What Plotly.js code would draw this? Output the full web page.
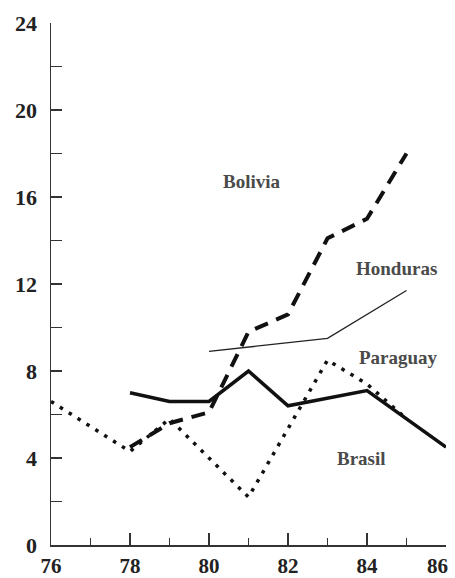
<!DOCTYPE html>
<html>
<head>
<meta charset="utf-8">
<script src="https://cdn.plot.ly/plotly-3.0.1.min.js"></script>
<style>html,body{margin:0;padding:0;background:#fff;}#chart{width:455px;height:578px;}</style>
</head>
<body>
<div id="chart"></div>
<script>
// Data
const boliviaYears = [78, 79, 80, 81, 82, 83, 84, 85];
const boliviaValues = [4.5, 5.6, 6.1, 9.8, 10.6, 14.1, 15.0, 18.0];

const hondurasYears = [80, 83, 85];
const hondurasValues = [8.9, 9.5, 11.7];

const paraguayYears = [76, 78, 79, 81, 83, 84, 85];
const paraguayValues = [6.6, 4.3, 5.8, 2.2, 8.5, 7.4, 5.8];

const brasilYears = [78, 79, 80, 81, 82, 84, 86];
const brasilValues = [7.0, 6.6, 6.6, 8.0, 6.4, 7.1, 4.5];

const labelNames = ["Bolivia", "Honduras", "Paraguay", "Brasil"];
const labelYears = [81.1, 84.75, 84.8, 83.85];
const labelValues = [16.7, 12.7, 8.6, 4.0];

const xTickVals = [76, 78, 80, 82, 84, 86];
const xTickText = ["76", "78", "80", "82", "84", ""];
const lastXTick = "86";
const yTickVals = [0, 4, 8, 12, 16, 20, 24];

const serif = "Liberation Serif, Times New Roman, serif";

const traces = [
  {x: paraguayYears, y: paraguayValues, mode: "lines", line: {color: "#111", width: 3.5, dash: "3.5px,7px"}},
  {x: hondurasYears, y: hondurasValues, mode: "lines", line: {color: "#222", width: 1.3}},
  {x: boliviaYears, y: boliviaValues, mode: "lines", line: {color: "#111", width: 4, dash: "14px,9px"}},
  {x: brasilYears, y: brasilValues, mode: "lines", line: {color: "#111", width: 3.5}}
];

const annotations = labelNames.map((t, i) => ({
  x: labelYears[i], y: labelValues[i], xref: "x", yref: "y",
  text: t, showarrow: false,
  font: {family: serif, size: 19, color: "#4a4a4a", weight: "bold"}
}));
// last x tick label, nudged left so it stays inside the page (as in the reference)
annotations.push({
  x: 86, xref: "x", y: 0, yref: "paper", xanchor: "right", yanchor: "top",
  xshift: 3, yshift: -8, text: lastXTick, showarrow: false, borderpad: 0,
  font: {family: serif, size: 21, color: "#222", weight: "bold"}
});

const layout = {
  width: 455, height: 578,
  margin: {l: 51, r: 9, t: 23, b: 33},
  paper_bgcolor: "#fff", plot_bgcolor: "#fff",
  showlegend: false,
  xaxis: {
    range: [76, 86], tickvals: xTickVals, ticktext: xTickText,
    showgrid: false, zeroline: false, showline: true, linecolor: "#333", linewidth: 1.5,
    ticks: "inside", ticklen: 12, tickwidth: 1.3, tickcolor: "#333",
    minor: {dtick: 1, tick0: 76, ticks: "inside", ticklen: 7, tickwidth: 1.3, tickcolor: "#333", showgrid: false},
    tickfont: {family: serif, size: 21, color: "#222", weight: "bold"},
    ticklabelstandoff: 1,
    ticklabeloverflow: "allow"
  },
  yaxis: {
    range: [0, 24], tickvals: yTickVals, ticktext: yTickVals.map(String),
    showgrid: false, zeroline: false, showline: true, linecolor: "#333", linewidth: 1.5,
    ticks: "inside", ticklen: 11, tickwidth: 1.3, tickcolor: "#333",
    minor: {dtick: 2, tick0: 0, ticks: "inside", ticklen: 11, tickwidth: 1.3, tickcolor: "#333", showgrid: false},
    tickfont: {family: serif, size: 22, color: "#222", weight: "bold"},
    ticklabelstandoff: 8,
    ticklabeloverflow: "allow"
  },
  annotations: annotations
};

Plotly.newPlot("chart", traces, layout, {displayModeBar: false, staticPlot: true});
</script>
</body>
</html>
